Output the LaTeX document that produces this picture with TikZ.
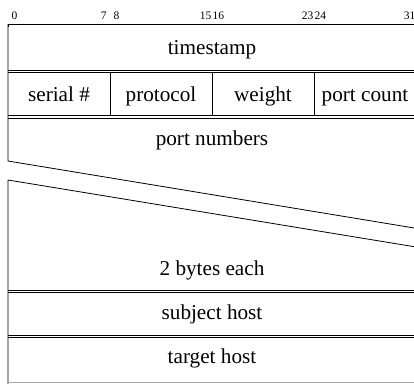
\documentclass[tikz,border=0pt]{standalone}
\usepackage{fontspec}
\setmainfont{Liberation Serif}
\begin{document}
\begin{tikzpicture}[x=1pt,y=-1pt,
  rule/.style={line width=0.8pt,black},
  field/.style={anchor=base,inner sep=0pt,font=\fontsize{21.2}{24}\selectfont},
  bitlbl/.style={anchor=base,inner sep=0pt,font=\fontsize{11.5}{13}\selectfont}]
\useasboundingbox (0,0) rectangle (414,383);
% bit labels
\foreach \b in {0,7,8,15,16,23,24,31}
  \node[bitlbl] (b\b) at ({8+(\b+0.5)*12.75},19.3) {\b};
% top border
\draw[rule,line width=0.9pt] (8,27) -- (8,24) -- (416,24);
% left border, upper part
\draw[rule] (8,24) -- (8,161) -- (416,228.3);
\draw[rule] (416,247) -- (8,180) -- (8,384);
% double lines
\foreach \y in {70,115.7,290,335}{
  \draw[rule] (8,\y) -- (416,\y);
  \draw[rule] (8,\y+2.6) -- (416,\y+2.6);
}
% dividers
\foreach \x in {110,212,314}
  \draw[rule] (\x,72.6) -- (\x,115.7);
% bottom
\draw[rule,black!35] (8,382.6) -- (416,382.6);
% texts
\node[field] (ts) at (212,54) {timestamp};
\node[field] (ser) at (59,101) {serial \#};
\node[field] (pro) at (161,101) {protocol};
\node[field] (wei) at (263,101) {weight};
\node[field] (pc) at (365,101) {port count};
\node[field] (pn) at (212,145) {port numbers};
\node[field] (be) at (212,275) {2 bytes each};
\node[field] (sh) at (212,319) {subject host};
\node[field] (th) at (212,363) {target host};
\end{tikzpicture}
\end{document}
